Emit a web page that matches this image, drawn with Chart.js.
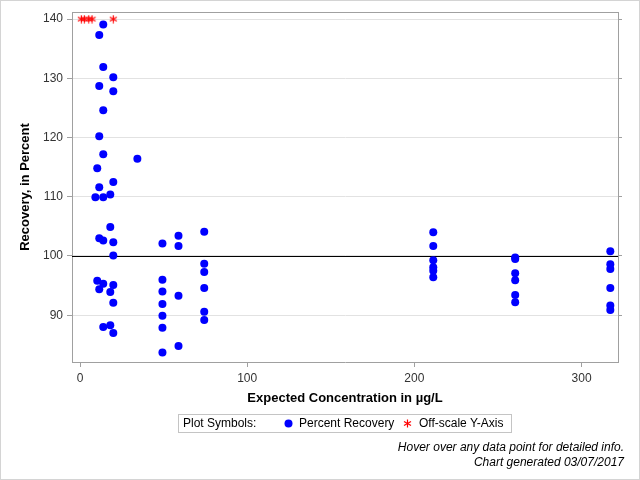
<!DOCTYPE html>
<html>
<head>
<meta charset="utf-8">
<title>Recovery, in Percent</title>
<script src="https://cdn.jsdelivr.net/npm/chart.js@4.4.1/dist/chart.umd.min.js"></script>
<style>
    body { margin: 0; background: #fff; font-family: 'Liberation Sans', Arial, sans-serif; }
    #wrap { position: relative; width: 640px; height: 480px; }
    #wrap canvas { position: absolute; left: 0; top: 0; }
    #frame { position: absolute; left: 0; top: 0; width: 638px; height: 478px; border: 1px solid #d4d4d4; pointer-events: none; }
    #legend { position: absolute; left: 178px; top: 414px; width: 332px; height: 17px; border: 1px solid #c4c4c4; font-size: 12px; line-height: 17px; color: #000; white-space: nowrap; }
    #legend span, #legend svg { position: absolute; }
    .foot { position: absolute; right: 16px; font-size: 12px; font-style: italic; color: #000; line-height: 14px; }
</style>
</head>
<body>
<div id="wrap">
    <canvas id="chart1" width="640" height="480"></canvas>
    <div id="legend">
        <span style="left:4px;top:0">Plot Symbols:</span>
        <svg style="left:105px;top:4px" width="9" height="9"><circle cx="4.5" cy="4.5" r="4" fill="#0000ff"/></svg>
        <span style="left:120px;top:0">Percent Recovery</span>
        <svg style="left:224px;top:4px" width="9" height="9"><g stroke="#ff0000" stroke-width="1.2"><line x1="4.5" y1="0.5" x2="4.5" y2="8.5"/><line x1="1" y1="2.5" x2="8" y2="6.5"/><line x1="1" y1="6.5" x2="8" y2="2.5"/></g></svg>
        <span style="left:240px;top:0">Off-scale Y-Axis</span>
    </div>
    <div class="foot" style="top:440px">Hover over any data point for detailed info.</div>
    <div class="foot" style="top:455px">Chart generated 03/07/2017</div>
    <div id="frame"></div>
</div>
<script>
    // percent recovery points (concentration, recovery)
    var pctConc = [
        9.2, 10.3, 10.3,
        11.5, 11.5, 11.5, 11.5, 11.5, 11.5,
        13.9, 13.9, 13.9, 13.9, 13.9, 13.9, 13.9, 13.9,
        18.1, 18.1, 18.1, 18.1,
        19.9, 19.9, 19.9, 19.9, 19.9, 19.9, 19.9, 19.9,
        34.3,
        49.3, 49.3, 49.3, 49.3, 49.3, 49.3, 49.3,
        58.9, 58.9, 58.9, 58.9,
        74.3, 74.3, 74.3, 74.3, 74.3, 74.3,
        211.3, 211.3, 211.3, 211.3, 211.3, 211.3,
        260.3, 260.3, 260.3, 260.3, 260.3, 260.3,
        317.2, 317.2, 317.2, 317.2, 317.2, 317.2
    ];
    var pctRecovery = [
        109.9, 114.8, 95.8,
        137.3, 128.7, 120.2, 111.6, 103.0, 94.4,
        139.1, 131.9, 124.6, 117.2, 109.9, 102.6, 95.3, 88.0,
        110.4, 104.9, 93.9, 88.3,
        130.2, 127.8, 112.5, 102.3, 100.1, 95.1, 92.1, 87.0,
        116.4,
        102.1, 96.0, 94.0, 91.9, 89.9, 87.9, 83.7,
        103.4, 101.7, 93.3, 84.8,
        104.1, 98.7, 97.3, 94.6, 90.6, 89.2,
        104.0, 101.7, 99.3, 98.1, 97.5, 96.4,
        99.75, 99.5, 97.1, 95.9, 93.4, 92.2,
        100.8, 98.6, 97.8, 94.6, 91.65, 90.9
    ];
    // values above the axis are plotted at the top
    var offConc = [0.8, 2.6, 5.2, 7.2, 19.9];
    var offRecovery = [140, 140, 140, 140, 140];

    var xTicks = [0, 100, 200, 300];
    var yTicks = [90, 100, 110, 120, 130, 140];
    var xRange = [-4.8, 321.8];
    var yRange = [82.1, 141.2];
    var refValue = 100;

    Chart.defaults.font.family = "'Liberation Sans', Arial, sans-serif";
    Chart.defaults.font.size = 12;
    Chart.defaults.color = '#333';

    // red asterisk marker
    var star = document.createElement('canvas');
    star.width = 9; star.height = 9;
    var sc = star.getContext('2d');
    sc.strokeStyle = '#ff0000';
    sc.lineWidth = 1.2;
    sc.beginPath();
    sc.moveTo(4.5, 0.5); sc.lineTo(4.5, 8.5);
    sc.moveTo(1, 2.5); sc.lineTo(8, 6.5);
    sc.moveTo(1, 6.5); sc.lineTo(8, 2.5);
    sc.stroke();

    var frameLines = {
        id: 'frameLines',
        beforeDatasetsDraw: function (chart) {
            var a = chart.chartArea, ctx = chart.ctx;
            var y = Math.round(chart.scales.y.getPixelForValue(refValue)) + 0.5;
            ctx.save();
            ctx.strokeStyle = '#a0a0a0';
            ctx.lineWidth = 1;
            ctx.beginPath();
            ctx.moveTo(a.left, a.top + 0.5);
            ctx.lineTo(a.right, a.top + 0.5);
            ctx.stroke();
            ctx.strokeStyle = '#000';
            ctx.beginPath();
            ctx.moveTo(a.left, y);
            ctx.lineTo(a.right, y);
            ctx.stroke();
            ctx.restore();
        }
    };

    function setTicks(list) {
        return function (axis) {
            axis.ticks = list.map(function (v) { return { value: v }; });
        };
    }

    new Chart('chart1', {
        type: 'scatter',
        data: {
            datasets: [{
                label: 'Percent Recovery',
                data: pctConc.map(function (c, i) { return { x: c, y: pctRecovery[i] }; }),
                pointStyle: 'circle',
                pointRadius: 4,
                pointHoverRadius: 5,
                backgroundColor: '#0000ff',
                borderColor: '#0000ff',
                borderWidth: 0
            }, {
                label: 'Off-scale Y-Axis',
                data: offConc.map(function (c, i) { return { x: c, y: offRecovery[i] }; }),
                pointStyle: star,
                pointRadius: 4,
                backgroundColor: '#ff0000',
                borderColor: '#ff0000'
            }]
        },
        options: {
            responsive: false,
            animation: false,
            devicePixelRatio: 1,
            layout: { padding: { left: 0, right: 0, top: 12, bottom: 68 } },
            plugins: {
                legend: { display: false }
            },
            scales: {
                x: {
                    type: 'linear',
                    min: xRange[0],
                    max: xRange[1],
                    afterBuildTicks: setTicks(xTicks),
                    afterFit: function (s) { s.height = 50; },
                    grid: { drawOnChartArea: false, color: '#a0a0a0', tickColor: '#a0a0a0', tickLength: 5 },
                    border: { color: '#a0a0a0' },
                    ticks: { padding: 4, color: '#333' },
                    title: {
                        display: true,
                        text: 'Expected Concentration in µg/L',
                        color: '#000',
                        font: { size: 13, weight: 'bold' },
                        padding: { top: 0, bottom: 6 }
                    }
                },
                y: {
                    type: 'linear',
                    min: yRange[0],
                    max: yRange[1],
                    afterBuildTicks: setTicks(yTicks),
                    afterFit: function (s) { s.width = 72; },
                    grid: { color: '#e2e2e2', tickColor: '#a0a0a0', tickLength: 5 },
                    border: { color: '#a0a0a0' },
                    ticks: { padding: 4, color: '#333' },
                    title: {
                        display: true,
                        text: 'Recovery, in Percent',
                        color: '#000',
                        font: { size: 13, weight: 'bold' },
                        padding: { top: 18, bottom: 0 }
                    }
                },
                y2: {
                    type: 'linear',
                    position: 'right',
                    min: yRange[0],
                    max: yRange[1],
                    afterBuildTicks: setTicks(yTicks),
                    afterFit: function (s) { s.width = 22; },
                    grid: { drawOnChartArea: false, color: '#a0a0a0', tickColor: '#a0a0a0', tickLength: 4 },
                    border: { color: '#a0a0a0' },
                    ticks: { display: false }
                }
            }
        },
        plugins: [frameLines]
    });
</script>
</body>
</html>
